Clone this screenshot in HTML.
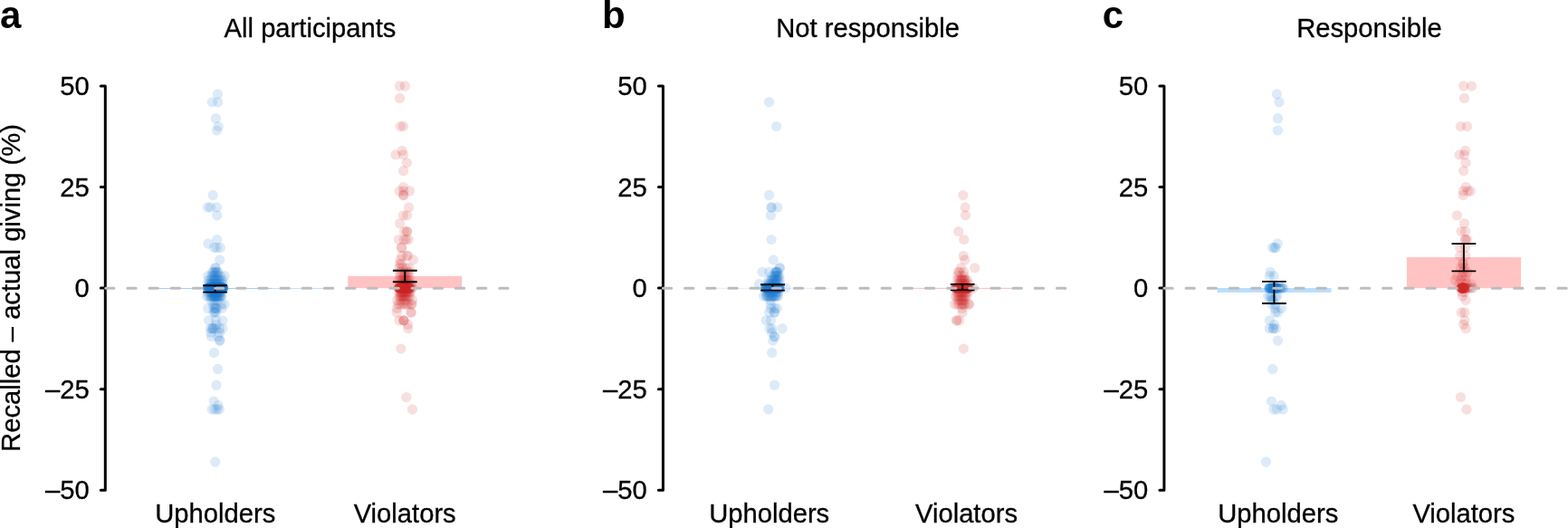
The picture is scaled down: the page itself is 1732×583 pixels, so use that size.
<!DOCTYPE html>
<html lang="en">
<head>
<meta charset="utf-8">
<title>Recalled minus actual giving</title>
<style>
html,body{margin:0;padding:0;background:#fff;}
body{width:1732px;height:583px;overflow:hidden;}
svg{display:block;}
text{font-family:"Liberation Sans",sans-serif;fill:#000;}
.t{font-size:29.2px;stroke:#000;stroke-width:0.3px;}
.pl{font-size:42px;font-weight:bold;}
.ax{stroke:#000;stroke-width:3;fill:none;stroke-linecap:round;stroke-linejoin:round;}
.dash{stroke:#bdbdbd;stroke-width:3.1;stroke-dasharray:9.20 14.97;stroke-linecap:round;fill:none;}
.eb{stroke:#000;stroke-width:1.9;fill:none;}
.b circle{fill:#1c77d1;fill-opacity:0.15;}
.r circle{fill:#d3272b;fill-opacity:0.15;}
</style>
</head>
<body>
<svg width="1732" height="583" viewBox="0 0 1732 583">
<rect width="1732" height="583" fill="#fff"/>
<text class="t" transform="translate(22.3,318) rotate(-90)" text-anchor="middle">Recalled – actual giving (%)</text>

<g>
<text class="pl" x="-0.1" y="31.3">a</text>
<text class="t" x="342.5" y="41.2" text-anchor="middle">All participants</text>
<rect x="174.5" y="318.00" width="126.0" height="0.70" fill="#7dbbff"/>
<rect x="384.2" y="304.80" width="126.0" height="13.40" fill="#ffc3c3"/>
<rect x="300.5" y="318.00" width="67.5" height="0.70" fill="#a8d2ff"/>
<g class="b">
<circle cx="240.4" cy="103.9" r="5.65"/><circle cx="234.4" cy="112.8" r="5.65"/><circle cx="240.7" cy="112.8" r="5.65"/><circle cx="238.4" cy="130.7" r="5.65"/><circle cx="241.2" cy="139.6" r="5.65"/><circle cx="239.5" cy="144.1" r="5.65"/><circle cx="235.2" cy="215.5" r="5.65"/><circle cx="229.4" cy="228.9" r="5.65"/><circle cx="232.5" cy="228.9" r="5.65"/><circle cx="239.5" cy="228.9" r="5.65"/><circle cx="239.7" cy="237.8" r="5.65"/><circle cx="239.7" cy="264.6" r="5.65"/><circle cx="229.9" cy="269.0" r="5.65"/><circle cx="236.5" cy="273.5" r="5.65"/><circle cx="239.5" cy="273.5" r="5.65"/><circle cx="243.4" cy="273.5" r="5.65"/><circle cx="242.7" cy="286.9" r="5.65"/><circle cx="237.9" cy="295.8" r="5.65"/><circle cx="238.1" cy="295.8" r="5.65"/><circle cx="234.6" cy="300.3" r="5.65"/><circle cx="236.0" cy="300.3" r="5.65"/><circle cx="237.5" cy="300.3" r="5.65"/><circle cx="238.5" cy="300.3" r="5.65"/><circle cx="239.5" cy="300.3" r="5.65"/><circle cx="241.1" cy="300.3" r="5.65"/><circle cx="229.7" cy="304.7" r="5.65"/><circle cx="248.1" cy="304.7" r="5.65"/><circle cx="233.5" cy="304.7" r="5.65"/><circle cx="235.5" cy="304.7" r="5.65"/><circle cx="237.0" cy="304.7" r="5.65"/><circle cx="239.0" cy="304.7" r="5.65"/><circle cx="241.0" cy="304.7" r="5.65"/><circle cx="243.5" cy="304.7" r="5.65"/><circle cx="230.5" cy="309.2" r="5.65"/><circle cx="232.5" cy="309.2" r="5.65"/><circle cx="234.5" cy="309.2" r="5.65"/><circle cx="236.0" cy="309.2" r="5.65"/><circle cx="237.5" cy="309.2" r="5.65"/><circle cx="239.0" cy="309.2" r="5.65"/><circle cx="240.5" cy="309.2" r="5.65"/><circle cx="242.0" cy="309.2" r="5.65"/><circle cx="244.0" cy="309.2" r="5.65"/><circle cx="246.0" cy="309.2" r="5.65"/><circle cx="238.0" cy="309.2" r="5.65"/><circle cx="229.5" cy="313.7" r="5.65"/><circle cx="231.5" cy="313.7" r="5.65"/><circle cx="233.5" cy="313.7" r="5.65"/><circle cx="235.0" cy="313.7" r="5.65"/><circle cx="236.5" cy="313.7" r="5.65"/><circle cx="238.0" cy="313.7" r="5.65"/><circle cx="239.5" cy="313.7" r="5.65"/><circle cx="241.0" cy="313.7" r="5.65"/><circle cx="242.5" cy="313.7" r="5.65"/><circle cx="244.5" cy="313.7" r="5.65"/><circle cx="246.5" cy="313.7" r="5.65"/><circle cx="237.0" cy="313.7" r="5.65"/><circle cx="240.0" cy="313.7" r="5.65"/><circle cx="234.0" cy="313.7" r="5.65"/><circle cx="233.2" cy="318.1" r="5.65"/><circle cx="238.7" cy="318.1" r="5.65"/><circle cx="235.6" cy="318.1" r="5.65"/><circle cx="239.7" cy="318.1" r="5.65"/><circle cx="240.1" cy="318.1" r="5.65"/><circle cx="230.2" cy="318.1" r="5.65"/><circle cx="229.2" cy="318.1" r="5.65"/><circle cx="243.9" cy="318.1" r="5.65"/><circle cx="233.6" cy="318.1" r="5.65"/><circle cx="233.2" cy="318.1" r="5.65"/><circle cx="246.7" cy="318.1" r="5.65"/><circle cx="237.4" cy="318.1" r="5.65"/><circle cx="243.9" cy="318.1" r="5.65"/><circle cx="237.5" cy="318.1" r="5.65"/><circle cx="240.4" cy="318.1" r="5.65"/><circle cx="231.7" cy="318.1" r="5.65"/><circle cx="240.3" cy="318.1" r="5.65"/><circle cx="244.5" cy="318.1" r="5.65"/><circle cx="238.3" cy="318.1" r="5.65"/><circle cx="242.2" cy="318.1" r="5.65"/><circle cx="241.0" cy="318.1" r="5.65"/><circle cx="230.1" cy="318.1" r="5.65"/><circle cx="242.5" cy="318.1" r="5.65"/><circle cx="239.5" cy="318.1" r="5.65"/><circle cx="234.4" cy="318.1" r="5.65"/><circle cx="229.6" cy="318.1" r="5.65"/><circle cx="244.4" cy="318.1" r="5.65"/><circle cx="237.4" cy="318.1" r="5.65"/><circle cx="241.8" cy="318.1" r="5.65"/><circle cx="244.6" cy="318.1" r="5.65"/><circle cx="241.7" cy="318.1" r="5.65"/><circle cx="245.4" cy="318.1" r="5.65"/><circle cx="236.0" cy="318.1" r="5.65"/><circle cx="243.3" cy="318.1" r="5.65"/><circle cx="236.9" cy="318.1" r="5.65"/><circle cx="245.7" cy="318.1" r="5.65"/><circle cx="244.6" cy="318.1" r="5.65"/><circle cx="230.7" cy="318.1" r="5.65"/><circle cx="231.4" cy="318.1" r="5.65"/><circle cx="232.9" cy="318.1" r="5.65"/><circle cx="246.2" cy="318.1" r="5.65"/><circle cx="236.8" cy="318.1" r="5.65"/><circle cx="240.2" cy="318.1" r="5.65"/><circle cx="234.4" cy="318.1" r="5.65"/><circle cx="238.0" cy="318.1" r="5.65"/><circle cx="235.9" cy="318.1" r="5.65"/><circle cx="235.2" cy="318.1" r="5.65"/><circle cx="239.4" cy="318.1" r="5.65"/><circle cx="239.4" cy="318.1" r="5.65"/><circle cx="245.1" cy="318.1" r="5.65"/><circle cx="241.1" cy="318.1" r="5.65"/><circle cx="245.5" cy="318.1" r="5.65"/><circle cx="244.2" cy="318.1" r="5.65"/><circle cx="246.6" cy="318.1" r="5.65"/><circle cx="240.9" cy="318.1" r="5.65"/><circle cx="231.9" cy="318.1" r="5.65"/><circle cx="244.3" cy="318.1" r="5.65"/><circle cx="246.2" cy="318.1" r="5.65"/><circle cx="245.1" cy="318.1" r="5.65"/><circle cx="239.1" cy="318.1" r="5.65"/><circle cx="241.7" cy="318.1" r="5.65"/><circle cx="232.8" cy="318.1" r="5.65"/><circle cx="243.8" cy="318.1" r="5.65"/><circle cx="239.2" cy="318.1" r="5.65"/><circle cx="234.1" cy="318.1" r="5.65"/><circle cx="230.1" cy="318.1" r="5.65"/><circle cx="244.2" cy="318.1" r="5.65"/><circle cx="246.6" cy="318.1" r="5.65"/><circle cx="230.6" cy="318.1" r="5.65"/><circle cx="243.3" cy="318.1" r="5.65"/><circle cx="236.3" cy="318.1" r="5.65"/><circle cx="231.7" cy="318.1" r="5.65"/><circle cx="234.2" cy="318.1" r="5.65"/><circle cx="242.7" cy="318.1" r="5.65"/><circle cx="244.5" cy="318.1" r="5.65"/><circle cx="229.8" cy="318.1" r="5.65"/><circle cx="239.9" cy="318.1" r="5.65"/><circle cx="229.8" cy="318.1" r="5.65"/><circle cx="241.8" cy="318.1" r="5.65"/><circle cx="234.9" cy="318.1" r="5.65"/><circle cx="244.7" cy="318.1" r="5.65"/><circle cx="246.5" cy="318.1" r="5.65"/><circle cx="238.0" cy="318.1" r="5.65"/><circle cx="246.8" cy="318.1" r="5.65"/><circle cx="234.5" cy="318.1" r="5.65"/><circle cx="230.4" cy="318.1" r="5.65"/><circle cx="239.7" cy="318.1" r="5.65"/><circle cx="229.6" cy="318.1" r="5.65"/><circle cx="232.5" cy="318.1" r="5.65"/><circle cx="236.3" cy="318.1" r="5.65"/><circle cx="239.9" cy="318.1" r="5.65"/><circle cx="231.8" cy="318.1" r="5.65"/><circle cx="229.8" cy="318.1" r="5.65"/><circle cx="244.4" cy="318.1" r="5.65"/><circle cx="234.6" cy="318.1" r="5.65"/><circle cx="246.1" cy="318.1" r="5.65"/><circle cx="245.0" cy="318.1" r="5.65"/><circle cx="235.7" cy="318.1" r="5.65"/><circle cx="237.2" cy="318.1" r="5.65"/><circle cx="238.3" cy="318.1" r="5.65"/><circle cx="240.5" cy="318.1" r="5.65"/><circle cx="239.6" cy="318.1" r="5.65"/><circle cx="239.0" cy="318.1" r="5.65"/><circle cx="240.0" cy="318.1" r="5.65"/><circle cx="245.7" cy="318.1" r="5.65"/><circle cx="238.0" cy="318.1" r="5.65"/><circle cx="236.7" cy="318.1" r="5.65"/><circle cx="241.8" cy="318.1" r="5.65"/><circle cx="233.2" cy="318.1" r="5.65"/><circle cx="234.4" cy="318.1" r="5.65"/><circle cx="229.5" cy="322.6" r="5.65"/><circle cx="232.0" cy="322.6" r="5.65"/><circle cx="234.0" cy="322.6" r="5.65"/><circle cx="236.0" cy="322.6" r="5.65"/><circle cx="238.0" cy="322.6" r="5.65"/><circle cx="240.0" cy="322.6" r="5.65"/><circle cx="242.0" cy="322.6" r="5.65"/><circle cx="244.0" cy="322.6" r="5.65"/><circle cx="237.0" cy="322.6" r="5.65"/><circle cx="239.0" cy="322.6" r="5.65"/><circle cx="235.0" cy="322.6" r="5.65"/><circle cx="241.0" cy="322.6" r="5.65"/><circle cx="233.0" cy="322.6" r="5.65"/><circle cx="236.5" cy="322.6" r="5.65"/><circle cx="239.5" cy="322.6" r="5.65"/><circle cx="243.0" cy="322.6" r="5.65"/><circle cx="228.5" cy="327.0" r="5.65"/><circle cx="230.5" cy="327.0" r="5.65"/><circle cx="232.5" cy="327.0" r="5.65"/><circle cx="234.5" cy="327.0" r="5.65"/><circle cx="236.0" cy="327.0" r="5.65"/><circle cx="237.0" cy="327.0" r="5.65"/><circle cx="238.0" cy="327.0" r="5.65"/><circle cx="239.5" cy="327.0" r="5.65"/><circle cx="241.0" cy="327.0" r="5.65"/><circle cx="242.5" cy="327.0" r="5.65"/><circle cx="244.0" cy="327.0" r="5.65"/><circle cx="236.5" cy="327.0" r="5.65"/><circle cx="238.5" cy="327.0" r="5.65"/><circle cx="240.0" cy="327.0" r="5.65"/><circle cx="235.0" cy="327.0" r="5.65"/><circle cx="233.5" cy="327.0" r="5.65"/><circle cx="237.5" cy="327.0" r="5.65"/><circle cx="239.0" cy="327.0" r="5.65"/><circle cx="241.7" cy="327.0" r="5.65"/><circle cx="243.2" cy="327.0" r="5.65"/><circle cx="245.0" cy="327.0" r="5.65"/><circle cx="233.0" cy="331.5" r="5.65"/><circle cx="237.0" cy="331.5" r="5.65"/><circle cx="240.5" cy="331.5" r="5.65"/><circle cx="248.0" cy="336.0" r="5.65"/><circle cx="244.5" cy="336.0" r="5.65"/><circle cx="238.0" cy="336.0" r="5.65"/><circle cx="235.5" cy="336.0" r="5.65"/><circle cx="229.8" cy="340.4" r="5.65"/><circle cx="236.0" cy="340.4" r="5.65"/><circle cx="237.5" cy="340.4" r="5.65"/><circle cx="238.5" cy="340.4" r="5.65"/><circle cx="239.5" cy="340.4" r="5.65"/><circle cx="245.0" cy="340.4" r="5.65"/><circle cx="237.5" cy="344.9" r="5.65"/><circle cx="238.5" cy="344.9" r="5.65"/><circle cx="236.0" cy="344.9" r="5.65"/><circle cx="230.7" cy="353.8" r="5.65"/><circle cx="238.5" cy="353.8" r="5.65"/><circle cx="245.7" cy="353.8" r="5.65"/><circle cx="239.0" cy="358.3" r="5.65"/><circle cx="232.5" cy="362.7" r="5.65"/><circle cx="234.5" cy="362.7" r="5.65"/><circle cx="236.0" cy="362.7" r="5.65"/><circle cx="238.5" cy="362.7" r="5.65"/><circle cx="242.5" cy="362.7" r="5.65"/><circle cx="246.0" cy="362.7" r="5.65"/><circle cx="235.0" cy="362.7" r="5.65"/><circle cx="233.0" cy="367.2" r="5.65"/><circle cx="242.5" cy="367.2" r="5.65"/><circle cx="233.5" cy="371.7" r="5.65"/><circle cx="241.0" cy="371.7" r="5.65"/><circle cx="242.5" cy="376.1" r="5.65"/><circle cx="243.0" cy="376.1" r="5.65"/><circle cx="236.5" cy="389.5" r="5.65"/><circle cx="240.5" cy="407.4" r="5.65"/><circle cx="239.0" cy="425.2" r="5.65"/><circle cx="236.2" cy="443.1" r="5.65"/><circle cx="240.9" cy="447.5" r="5.65"/><circle cx="234.2" cy="452.0" r="5.65"/><circle cx="237.2" cy="452.0" r="5.65"/><circle cx="240.0" cy="452.0" r="5.65"/><circle cx="242.4" cy="452.0" r="5.65"/><circle cx="237.7" cy="510.0" r="5.65"/>
</g>
<g class="r">
<circle cx="441.5" cy="95.0" r="5.65"/><circle cx="447.4" cy="95.0" r="5.65"/><circle cx="441.6" cy="108.4" r="5.65"/><circle cx="442.3" cy="139.6" r="5.65"/><circle cx="445.5" cy="139.6" r="5.65"/><circle cx="444.2" cy="166.4" r="5.65"/><circle cx="437.1" cy="170.9" r="5.65"/><circle cx="445.5" cy="170.9" r="5.65"/><circle cx="449.4" cy="179.8" r="5.65"/><circle cx="445.6" cy="188.7" r="5.65"/><circle cx="445.6" cy="206.6" r="5.65"/><circle cx="441.4" cy="211.0" r="5.65"/><circle cx="446.0" cy="211.0" r="5.65"/><circle cx="452.5" cy="211.0" r="5.65"/><circle cx="445.6" cy="215.5" r="5.65"/><circle cx="445.8" cy="215.5" r="5.65"/><circle cx="451.5" cy="228.9" r="5.65"/><circle cx="445.5" cy="237.8" r="5.65"/><circle cx="449.6" cy="237.8" r="5.65"/><circle cx="441.6" cy="246.7" r="5.65"/><circle cx="446.4" cy="255.6" r="5.65"/><circle cx="449.5" cy="255.6" r="5.65"/><circle cx="449.7" cy="255.6" r="5.65"/><circle cx="440.5" cy="264.6" r="5.65"/><circle cx="446.2" cy="264.6" r="5.65"/><circle cx="448.7" cy="264.6" r="5.65"/><circle cx="451.2" cy="264.6" r="5.65"/><circle cx="443.5" cy="273.5" r="5.65"/><circle cx="443.7" cy="273.5" r="5.65"/><circle cx="449.5" cy="282.4" r="5.65"/><circle cx="444.0" cy="282.4" r="5.65"/><circle cx="450.5" cy="282.4" r="5.65"/><circle cx="456.4" cy="286.9" r="5.65"/><circle cx="442.0" cy="286.9" r="5.65"/><circle cx="441.7" cy="291.3" r="5.65"/><circle cx="443.5" cy="291.3" r="5.65"/><circle cx="448.7" cy="295.8" r="5.65"/><circle cx="444.5" cy="295.8" r="5.65"/><circle cx="452.0" cy="295.8" r="5.65"/><circle cx="441.0" cy="295.8" r="5.65"/><circle cx="441.0" cy="300.3" r="5.65"/><circle cx="443.5" cy="300.3" r="5.65"/><circle cx="447.0" cy="300.3" r="5.65"/><circle cx="450.5" cy="300.3" r="5.65"/><circle cx="452.0" cy="300.3" r="5.65"/><circle cx="442.0" cy="304.7" r="5.65"/><circle cx="445.5" cy="304.7" r="5.65"/><circle cx="448.5" cy="304.7" r="5.65"/><circle cx="451.5" cy="304.7" r="5.65"/><circle cx="447.0" cy="304.7" r="5.65"/><circle cx="440.5" cy="309.2" r="5.65"/><circle cx="442.5" cy="309.2" r="5.65"/><circle cx="445.0" cy="309.2" r="5.65"/><circle cx="447.5" cy="309.2" r="5.65"/><circle cx="450.0" cy="309.2" r="5.65"/><circle cx="452.5" cy="309.2" r="5.65"/><circle cx="446.0" cy="309.2" r="5.65"/><circle cx="449.0" cy="309.2" r="5.65"/><circle cx="441.5" cy="313.7" r="5.65"/><circle cx="443.5" cy="313.7" r="5.65"/><circle cx="446.5" cy="313.7" r="5.65"/><circle cx="449.5" cy="313.7" r="5.65"/><circle cx="452.0" cy="313.7" r="5.65"/><circle cx="445.0" cy="313.7" r="5.65"/><circle cx="448.0" cy="313.7" r="5.65"/><circle cx="454.0" cy="313.7" r="5.65"/><circle cx="452.6" cy="318.1" r="5.65"/><circle cx="446.9" cy="318.1" r="5.65"/><circle cx="447.2" cy="318.1" r="5.65"/><circle cx="440.4" cy="318.1" r="5.65"/><circle cx="445.5" cy="318.1" r="5.65"/><circle cx="447.6" cy="318.1" r="5.65"/><circle cx="440.6" cy="318.1" r="5.65"/><circle cx="448.1" cy="318.1" r="5.65"/><circle cx="448.3" cy="318.1" r="5.65"/><circle cx="441.1" cy="318.1" r="5.65"/><circle cx="448.2" cy="318.1" r="5.65"/><circle cx="446.2" cy="318.1" r="5.65"/><circle cx="448.9" cy="318.1" r="5.65"/><circle cx="444.7" cy="318.1" r="5.65"/><circle cx="449.2" cy="318.1" r="5.65"/><circle cx="449.6" cy="318.1" r="5.65"/><circle cx="440.6" cy="318.1" r="5.65"/><circle cx="441.1" cy="318.1" r="5.65"/><circle cx="448.8" cy="318.1" r="5.65"/><circle cx="452.4" cy="318.1" r="5.65"/><circle cx="443.5" cy="318.1" r="5.65"/><circle cx="446.0" cy="318.1" r="5.65"/><circle cx="447.8" cy="318.1" r="5.65"/><circle cx="444.3" cy="318.1" r="5.65"/><circle cx="444.9" cy="318.1" r="5.65"/><circle cx="444.2" cy="318.1" r="5.65"/><circle cx="445.0" cy="318.1" r="5.65"/><circle cx="447.8" cy="318.1" r="5.65"/><circle cx="444.1" cy="318.1" r="5.65"/><circle cx="445.1" cy="318.1" r="5.65"/><circle cx="450.0" cy="318.1" r="5.65"/><circle cx="440.6" cy="318.1" r="5.65"/><circle cx="447.5" cy="318.1" r="5.65"/><circle cx="449.6" cy="318.1" r="5.65"/><circle cx="444.2" cy="318.1" r="5.65"/><circle cx="443.1" cy="318.1" r="5.65"/><circle cx="450.4" cy="318.1" r="5.65"/><circle cx="443.3" cy="318.1" r="5.65"/><circle cx="442.7" cy="318.1" r="5.65"/><circle cx="445.8" cy="318.1" r="5.65"/><circle cx="449.1" cy="318.1" r="5.65"/><circle cx="441.6" cy="318.1" r="5.65"/><circle cx="444.4" cy="318.1" r="5.65"/><circle cx="444.5" cy="318.1" r="5.65"/><circle cx="450.8" cy="318.1" r="5.65"/><circle cx="445.8" cy="318.1" r="5.65"/><circle cx="451.1" cy="318.1" r="5.65"/><circle cx="442.4" cy="318.1" r="5.65"/><circle cx="444.5" cy="318.1" r="5.65"/><circle cx="448.5" cy="318.1" r="5.65"/><circle cx="451.4" cy="318.1" r="5.65"/><circle cx="446.0" cy="318.1" r="5.65"/><circle cx="443.1" cy="318.1" r="5.65"/><circle cx="441.8" cy="318.1" r="5.65"/><circle cx="447.0" cy="318.1" r="5.65"/><circle cx="442.7" cy="318.1" r="5.65"/><circle cx="450.5" cy="318.1" r="5.65"/><circle cx="450.9" cy="318.1" r="5.65"/><circle cx="442.6" cy="318.1" r="5.65"/><circle cx="443.8" cy="318.1" r="5.65"/><circle cx="450.5" cy="318.1" r="5.65"/><circle cx="448.4" cy="318.1" r="5.65"/><circle cx="450.5" cy="318.1" r="5.65"/><circle cx="444.7" cy="318.1" r="5.65"/><circle cx="441.9" cy="318.1" r="5.65"/><circle cx="444.0" cy="318.1" r="5.65"/><circle cx="450.3" cy="318.1" r="5.65"/><circle cx="443.7" cy="318.1" r="5.65"/><circle cx="444.7" cy="318.1" r="5.65"/><circle cx="445.6" cy="318.1" r="5.65"/><circle cx="445.6" cy="318.1" r="5.65"/><circle cx="445.5" cy="318.1" r="5.65"/><circle cx="451.9" cy="318.1" r="5.65"/><circle cx="442.3" cy="318.1" r="5.65"/><circle cx="440.4" cy="318.1" r="5.65"/><circle cx="452.2" cy="318.1" r="5.65"/><circle cx="451.4" cy="318.1" r="5.65"/><circle cx="452.7" cy="318.1" r="5.65"/><circle cx="445.8" cy="318.1" r="5.65"/><circle cx="452.3" cy="318.1" r="5.65"/><circle cx="452.0" cy="318.1" r="5.65"/><circle cx="443.1" cy="318.1" r="5.65"/><circle cx="449.7" cy="318.1" r="5.65"/><circle cx="450.8" cy="318.1" r="5.65"/><circle cx="448.7" cy="318.1" r="5.65"/><circle cx="454.5" cy="318.1" r="5.65"/><circle cx="455.5" cy="318.1" r="5.65"/><circle cx="441.0" cy="322.6" r="5.65"/><circle cx="444.0" cy="322.6" r="5.65"/><circle cx="447.0" cy="322.6" r="5.65"/><circle cx="450.0" cy="322.6" r="5.65"/><circle cx="453.0" cy="322.6" r="5.65"/><circle cx="445.5" cy="322.6" r="5.65"/><circle cx="442.5" cy="322.6" r="5.65"/><circle cx="446.2" cy="322.6" r="5.65"/><circle cx="448.5" cy="322.6" r="5.65"/><circle cx="451.5" cy="322.6" r="5.65"/><circle cx="443.2" cy="322.6" r="5.65"/><circle cx="449.3" cy="322.6" r="5.65"/><circle cx="442.0" cy="327.0" r="5.65"/><circle cx="445.0" cy="327.0" r="5.65"/><circle cx="446.5" cy="327.0" r="5.65"/><circle cx="448.0" cy="327.0" r="5.65"/><circle cx="451.0" cy="327.0" r="5.65"/><circle cx="449.5" cy="327.0" r="5.65"/><circle cx="443.5" cy="327.0" r="5.65"/><circle cx="441.0" cy="327.0" r="5.65"/><circle cx="444.2" cy="327.0" r="5.65"/><circle cx="447.3" cy="327.0" r="5.65"/><circle cx="452.5" cy="327.0" r="5.65"/><circle cx="438.8" cy="331.5" r="5.65"/><circle cx="442.5" cy="331.5" r="5.65"/><circle cx="445.5" cy="331.5" r="5.65"/><circle cx="448.5" cy="331.5" r="5.65"/><circle cx="455.7" cy="331.5" r="5.65"/><circle cx="439.5" cy="336.0" r="5.65"/><circle cx="442.0" cy="336.0" r="5.65"/><circle cx="444.5" cy="336.0" r="5.65"/><circle cx="447.0" cy="336.0" r="5.65"/><circle cx="449.0" cy="336.0" r="5.65"/><circle cx="451.0" cy="336.0" r="5.65"/><circle cx="454.5" cy="336.0" r="5.65"/><circle cx="454.8" cy="336.0" r="5.65"/><circle cx="438.5" cy="340.4" r="5.65"/><circle cx="438.3" cy="344.9" r="5.65"/><circle cx="454.0" cy="344.9" r="5.65"/><circle cx="454.2" cy="344.9" r="5.65"/><circle cx="441.0" cy="353.8" r="5.65"/><circle cx="445.6" cy="353.8" r="5.65"/><circle cx="445.9" cy="353.8" r="5.65"/><circle cx="446.2" cy="353.8" r="5.65"/><circle cx="450.5" cy="358.3" r="5.65"/><circle cx="450.7" cy="362.7" r="5.65"/><circle cx="442.9" cy="385.1" r="5.65"/><circle cx="448.9" cy="438.6" r="5.65"/><circle cx="455.5" cy="452.0" r="5.65"/>
</g>
<path class="eb" d="M224.2 315.2h26.8M224.2 322.6h26.8M237.6 315.2V322.6"/>
<path class="eb" d="M433.9 298.8h26.8M433.9 311.3h26.8M447.3 298.8V311.3"/>
<path class="ax" d="M111.3 95.0H116.3V541.2H111.3M111.3 206.6H116.3M111.3 318.1H116.3M111.3 429.7H116.3"/>
<path class="dash" d="M116.75 318.3H561.01"/>
<text class="t" transform="translate(98.7 105.2) scale(1 1.04)" text-anchor="end">50</text>
<text class="t" transform="translate(98.7 216.8) scale(1 1.04)" text-anchor="end">25</text>
<text class="t" transform="translate(98.7 328.3) scale(1 1.04)" text-anchor="end">0</text>
<text class="t" transform="translate(98.7 439.9) scale(1 1.04)" text-anchor="end">–25</text>
<text class="t" transform="translate(98.7 551.4) scale(1 1.04)" text-anchor="end">–50</text>
<text class="t" x="237.8" y="577.3" text-anchor="middle">Upholders</text>
<text class="t" x="447.2" y="577.3" text-anchor="middle">Violators</text>
</g>
<g>
<text class="pl" x="664.9" y="31.3">b</text>
<text class="t" x="958.6" y="41.2" text-anchor="middle">Not responsible</text>
<rect x="790.4" y="317.90" width="126.0" height="0.70" fill="#cfe6ff"/>
<rect x="1000.2" y="317.90" width="126.0" height="0.70" fill="#ff9c9c"/>
<g class="b">
<circle cx="849.5" cy="112.8" r="5.65"/><circle cx="857.7" cy="139.6" r="5.65"/><circle cx="849.5" cy="215.5" r="5.65"/><circle cx="852.0" cy="228.9" r="5.65"/><circle cx="852.3" cy="228.9" r="5.65"/><circle cx="858.7" cy="228.9" r="5.65"/><circle cx="851.4" cy="237.8" r="5.65"/><circle cx="852.0" cy="264.6" r="5.65"/><circle cx="854.2" cy="286.9" r="5.65"/><circle cx="861.5" cy="295.8" r="5.65"/><circle cx="861.0" cy="295.8" r="5.65"/><circle cx="842.0" cy="300.3" r="5.65"/><circle cx="849.7" cy="300.3" r="5.65"/><circle cx="856.5" cy="300.3" r="5.65"/><circle cx="857.5" cy="300.3" r="5.65"/><circle cx="858.5" cy="300.3" r="5.65"/><circle cx="857.0" cy="300.3" r="5.65"/><circle cx="859.0" cy="300.3" r="5.65"/><circle cx="861.0" cy="304.7" r="5.65"/><circle cx="855.0" cy="304.7" r="5.65"/><circle cx="857.5" cy="304.7" r="5.65"/><circle cx="852.5" cy="304.7" r="5.65"/><circle cx="856.0" cy="304.7" r="5.65"/><circle cx="858.5" cy="304.7" r="5.65"/><circle cx="859.5" cy="304.7" r="5.65"/><circle cx="849.0" cy="309.2" r="5.65"/><circle cx="852.0" cy="309.2" r="5.65"/><circle cx="855.0" cy="309.2" r="5.65"/><circle cx="858.0" cy="309.2" r="5.65"/><circle cx="861.0" cy="309.2" r="5.65"/><circle cx="856.0" cy="309.2" r="5.65"/><circle cx="854.0" cy="309.2" r="5.65"/><circle cx="857.0" cy="309.2" r="5.65"/><circle cx="859.0" cy="309.2" r="5.65"/><circle cx="853.0" cy="309.2" r="5.65"/><circle cx="838.5" cy="313.7" r="5.65"/><circle cx="847.0" cy="313.7" r="5.65"/><circle cx="850.0" cy="313.7" r="5.65"/><circle cx="853.0" cy="313.7" r="5.65"/><circle cx="856.0" cy="313.7" r="5.65"/><circle cx="859.0" cy="313.7" r="5.65"/><circle cx="862.0" cy="313.7" r="5.65"/><circle cx="852.0" cy="313.7" r="5.65"/><circle cx="855.0" cy="313.7" r="5.65"/><circle cx="857.5" cy="313.7" r="5.65"/><circle cx="849.0" cy="313.7" r="5.65"/><circle cx="854.0" cy="318.1" r="5.65"/><circle cx="850.2" cy="318.1" r="5.65"/><circle cx="851.0" cy="318.1" r="5.65"/><circle cx="849.2" cy="318.1" r="5.65"/><circle cx="846.5" cy="318.1" r="5.65"/><circle cx="855.1" cy="318.1" r="5.65"/><circle cx="850.1" cy="318.1" r="5.65"/><circle cx="858.8" cy="318.1" r="5.65"/><circle cx="846.1" cy="318.1" r="5.65"/><circle cx="860.3" cy="318.1" r="5.65"/><circle cx="856.8" cy="318.1" r="5.65"/><circle cx="860.6" cy="318.1" r="5.65"/><circle cx="860.2" cy="318.1" r="5.65"/><circle cx="860.2" cy="318.1" r="5.65"/><circle cx="854.9" cy="318.1" r="5.65"/><circle cx="845.6" cy="318.1" r="5.65"/><circle cx="857.7" cy="318.1" r="5.65"/><circle cx="848.2" cy="318.1" r="5.65"/><circle cx="850.3" cy="318.1" r="5.65"/><circle cx="856.3" cy="318.1" r="5.65"/><circle cx="854.1" cy="318.1" r="5.65"/><circle cx="852.2" cy="318.1" r="5.65"/><circle cx="860.9" cy="318.1" r="5.65"/><circle cx="855.5" cy="318.1" r="5.65"/><circle cx="851.0" cy="318.1" r="5.65"/><circle cx="849.6" cy="318.1" r="5.65"/><circle cx="859.6" cy="318.1" r="5.65"/><circle cx="853.3" cy="318.1" r="5.65"/><circle cx="858.3" cy="318.1" r="5.65"/><circle cx="851.2" cy="318.1" r="5.65"/><circle cx="848.7" cy="318.1" r="5.65"/><circle cx="854.2" cy="318.1" r="5.65"/><circle cx="858.9" cy="318.1" r="5.65"/><circle cx="848.2" cy="318.1" r="5.65"/><circle cx="858.5" cy="318.1" r="5.65"/><circle cx="860.6" cy="318.1" r="5.65"/><circle cx="858.7" cy="318.1" r="5.65"/><circle cx="859.0" cy="318.1" r="5.65"/><circle cx="845.5" cy="318.1" r="5.65"/><circle cx="855.8" cy="318.1" r="5.65"/><circle cx="859.6" cy="318.1" r="5.65"/><circle cx="846.2" cy="318.1" r="5.65"/><circle cx="849.9" cy="318.1" r="5.65"/><circle cx="849.8" cy="318.1" r="5.65"/><circle cx="854.1" cy="318.1" r="5.65"/><circle cx="852.4" cy="318.1" r="5.65"/><circle cx="853.2" cy="318.1" r="5.65"/><circle cx="858.2" cy="318.1" r="5.65"/><circle cx="845.4" cy="318.1" r="5.65"/><circle cx="846.3" cy="318.1" r="5.65"/><circle cx="847.5" cy="318.1" r="5.65"/><circle cx="847.5" cy="318.1" r="5.65"/><circle cx="846.5" cy="318.1" r="5.65"/><circle cx="861.5" cy="318.1" r="5.65"/><circle cx="859.5" cy="318.1" r="5.65"/><circle cx="846.8" cy="318.1" r="5.65"/><circle cx="853.7" cy="318.1" r="5.65"/><circle cx="850.6" cy="318.1" r="5.65"/><circle cx="850.6" cy="318.1" r="5.65"/><circle cx="851.2" cy="318.1" r="5.65"/><circle cx="856.1" cy="318.1" r="5.65"/><circle cx="855.1" cy="318.1" r="5.65"/><circle cx="851.4" cy="318.1" r="5.65"/><circle cx="848.6" cy="318.1" r="5.65"/><circle cx="850.8" cy="318.1" r="5.65"/><circle cx="847.4" cy="318.1" r="5.65"/><circle cx="854.6" cy="318.1" r="5.65"/><circle cx="857.2" cy="318.1" r="5.65"/><circle cx="851.7" cy="318.1" r="5.65"/><circle cx="846.7" cy="318.1" r="5.65"/><circle cx="867.6" cy="318.1" r="5.65"/><circle cx="846.0" cy="322.6" r="5.65"/><circle cx="850.0" cy="322.6" r="5.65"/><circle cx="854.0" cy="322.6" r="5.65"/><circle cx="858.0" cy="322.6" r="5.65"/><circle cx="848.0" cy="322.6" r="5.65"/><circle cx="852.0" cy="322.6" r="5.65"/><circle cx="856.0" cy="322.6" r="5.65"/><circle cx="860.0" cy="322.6" r="5.65"/><circle cx="843.5" cy="327.0" r="5.65"/><circle cx="847.0" cy="327.0" r="5.65"/><circle cx="850.0" cy="327.0" r="5.65"/><circle cx="852.5" cy="327.0" r="5.65"/><circle cx="855.0" cy="327.0" r="5.65"/><circle cx="857.0" cy="327.0" r="5.65"/><circle cx="859.5" cy="327.0" r="5.65"/><circle cx="849.0" cy="327.0" r="5.65"/><circle cx="853.5" cy="327.0" r="5.65"/><circle cx="856.0" cy="327.0" r="5.65"/><circle cx="846.0" cy="327.0" r="5.65"/><circle cx="848.0" cy="327.0" r="5.65"/><circle cx="851.0" cy="327.0" r="5.65"/><circle cx="854.0" cy="327.0" r="5.65"/><circle cx="858.0" cy="327.0" r="5.65"/><circle cx="851.0" cy="331.5" r="5.65"/><circle cx="851.2" cy="336.0" r="5.65"/><circle cx="851.7" cy="340.4" r="5.65"/><circle cx="855.7" cy="340.4" r="5.65"/><circle cx="858.2" cy="340.4" r="5.65"/><circle cx="849.7" cy="344.9" r="5.65"/><circle cx="855.2" cy="344.9" r="5.65"/><circle cx="855.5" cy="344.9" r="5.65"/><circle cx="846.2" cy="353.8" r="5.65"/><circle cx="851.5" cy="353.8" r="5.65"/><circle cx="850.0" cy="362.7" r="5.65"/><circle cx="852.7" cy="362.7" r="5.65"/><circle cx="864.0" cy="362.7" r="5.65"/><circle cx="852.7" cy="367.2" r="5.65"/><circle cx="855.4" cy="371.7" r="5.65"/><circle cx="855.6" cy="371.7" r="5.65"/><circle cx="853.7" cy="376.1" r="5.65"/><circle cx="852.7" cy="389.5" r="5.65"/><circle cx="855.6" cy="425.2" r="5.65"/><circle cx="848.7" cy="452.0" r="5.65"/>
</g>
<g class="r">
<circle cx="1063.9" cy="215.5" r="5.65"/><circle cx="1066.1" cy="228.9" r="5.65"/><circle cx="1066.4" cy="237.8" r="5.65"/><circle cx="1058.8" cy="255.6" r="5.65"/><circle cx="1064.7" cy="264.6" r="5.65"/><circle cx="1064.2" cy="282.4" r="5.65"/><circle cx="1065.7" cy="286.9" r="5.65"/><circle cx="1061.5" cy="295.8" r="5.65"/><circle cx="1076.7" cy="295.8" r="5.65"/><circle cx="1058.8" cy="300.3" r="5.65"/><circle cx="1064.7" cy="300.3" r="5.65"/><circle cx="1059.5" cy="300.3" r="5.65"/><circle cx="1058.0" cy="304.7" r="5.65"/><circle cx="1062.0" cy="304.7" r="5.65"/><circle cx="1065.0" cy="304.7" r="5.65"/><circle cx="1057.5" cy="309.2" r="5.65"/><circle cx="1060.0" cy="309.2" r="5.65"/><circle cx="1062.5" cy="309.2" r="5.65"/><circle cx="1064.5" cy="309.2" r="5.65"/><circle cx="1066.5" cy="309.2" r="5.65"/><circle cx="1068.5" cy="309.2" r="5.65"/><circle cx="1061.0" cy="309.2" r="5.65"/><circle cx="1063.5" cy="309.2" r="5.65"/><circle cx="1062.0" cy="309.2" r="5.65"/><circle cx="1065.5" cy="309.2" r="5.65"/><circle cx="1058.0" cy="313.7" r="5.65"/><circle cx="1061.0" cy="313.7" r="5.65"/><circle cx="1064.0" cy="313.7" r="5.65"/><circle cx="1067.0" cy="313.7" r="5.65"/><circle cx="1070.0" cy="313.7" r="5.65"/><circle cx="1060.0" cy="313.7" r="5.65"/><circle cx="1063.0" cy="313.7" r="5.65"/><circle cx="1066.0" cy="313.7" r="5.65"/><circle cx="1058.1" cy="318.1" r="5.65"/><circle cx="1061.2" cy="318.1" r="5.65"/><circle cx="1064.9" cy="318.1" r="5.65"/><circle cx="1067.7" cy="318.1" r="5.65"/><circle cx="1061.3" cy="318.1" r="5.65"/><circle cx="1068.0" cy="318.1" r="5.65"/><circle cx="1065.2" cy="318.1" r="5.65"/><circle cx="1062.1" cy="318.1" r="5.65"/><circle cx="1061.2" cy="318.1" r="5.65"/><circle cx="1063.1" cy="318.1" r="5.65"/><circle cx="1066.4" cy="318.1" r="5.65"/><circle cx="1061.9" cy="318.1" r="5.65"/><circle cx="1066.3" cy="318.1" r="5.65"/><circle cx="1062.6" cy="318.1" r="5.65"/><circle cx="1059.1" cy="318.1" r="5.65"/><circle cx="1063.8" cy="318.1" r="5.65"/><circle cx="1066.3" cy="318.1" r="5.65"/><circle cx="1056.3" cy="318.1" r="5.65"/><circle cx="1062.0" cy="318.1" r="5.65"/><circle cx="1062.0" cy="318.1" r="5.65"/><circle cx="1069.3" cy="318.1" r="5.65"/><circle cx="1070.2" cy="318.1" r="5.65"/><circle cx="1061.2" cy="318.1" r="5.65"/><circle cx="1069.6" cy="318.1" r="5.65"/><circle cx="1067.9" cy="318.1" r="5.65"/><circle cx="1059.4" cy="318.1" r="5.65"/><circle cx="1062.6" cy="318.1" r="5.65"/><circle cx="1057.2" cy="318.1" r="5.65"/><circle cx="1068.2" cy="318.1" r="5.65"/><circle cx="1065.8" cy="318.1" r="5.65"/><circle cx="1069.4" cy="318.1" r="5.65"/><circle cx="1067.9" cy="318.1" r="5.65"/><circle cx="1065.9" cy="318.1" r="5.65"/><circle cx="1066.9" cy="318.1" r="5.65"/><circle cx="1064.2" cy="318.1" r="5.65"/><circle cx="1056.9" cy="318.1" r="5.65"/><circle cx="1064.6" cy="318.1" r="5.65"/><circle cx="1055.3" cy="318.1" r="5.65"/><circle cx="1057.5" cy="318.1" r="5.65"/><circle cx="1067.6" cy="318.1" r="5.65"/><circle cx="1055.9" cy="318.1" r="5.65"/><circle cx="1056.7" cy="318.1" r="5.65"/><circle cx="1056.8" cy="318.1" r="5.65"/><circle cx="1069.3" cy="318.1" r="5.65"/><circle cx="1058.1" cy="318.1" r="5.65"/><circle cx="1055.6" cy="318.1" r="5.65"/><circle cx="1068.7" cy="318.1" r="5.65"/><circle cx="1057.1" cy="318.1" r="5.65"/><circle cx="1068.7" cy="318.1" r="5.65"/><circle cx="1066.0" cy="318.1" r="5.65"/><circle cx="1068.6" cy="318.1" r="5.65"/><circle cx="1070.4" cy="318.1" r="5.65"/><circle cx="1064.5" cy="318.1" r="5.65"/><circle cx="1068.0" cy="318.1" r="5.65"/><circle cx="1055.8" cy="318.1" r="5.65"/><circle cx="1075.2" cy="318.1" r="5.65"/><circle cx="1057.0" cy="322.6" r="5.65"/><circle cx="1060.0" cy="322.6" r="5.65"/><circle cx="1063.0" cy="322.6" r="5.65"/><circle cx="1066.0" cy="322.6" r="5.65"/><circle cx="1069.0" cy="322.6" r="5.65"/><circle cx="1059.0" cy="322.6" r="5.65"/><circle cx="1062.0" cy="322.6" r="5.65"/><circle cx="1065.0" cy="322.6" r="5.65"/><circle cx="1055.3" cy="327.0" r="5.65"/><circle cx="1058.5" cy="327.0" r="5.65"/><circle cx="1061.5" cy="327.0" r="5.65"/><circle cx="1064.0" cy="327.0" r="5.65"/><circle cx="1066.5" cy="327.0" r="5.65"/><circle cx="1068.2" cy="327.0" r="5.65"/><circle cx="1057.0" cy="327.0" r="5.65"/><circle cx="1060.0" cy="327.0" r="5.65"/><circle cx="1063.0" cy="327.0" r="5.65"/><circle cx="1065.5" cy="327.0" r="5.65"/><circle cx="1058.0" cy="331.5" r="5.65"/><circle cx="1062.0" cy="331.5" r="5.65"/><circle cx="1065.0" cy="331.5" r="5.65"/><circle cx="1060.5" cy="331.5" r="5.65"/><circle cx="1063.5" cy="331.5" r="5.65"/><circle cx="1054.5" cy="336.0" r="5.65"/><circle cx="1058.0" cy="336.0" r="5.65"/><circle cx="1060.0" cy="336.0" r="5.65"/><circle cx="1062.7" cy="336.0" r="5.65"/><circle cx="1063.0" cy="336.0" r="5.65"/><circle cx="1064.5" cy="336.0" r="5.65"/><circle cx="1066.5" cy="336.0" r="5.65"/><circle cx="1070.2" cy="336.0" r="5.65"/><circle cx="1070.4" cy="336.0" r="5.65"/><circle cx="1062.7" cy="340.4" r="5.65"/><circle cx="1063.2" cy="344.9" r="5.65"/><circle cx="1056.6" cy="353.8" r="5.65"/><circle cx="1056.8" cy="353.8" r="5.65"/><circle cx="1059.7" cy="353.8" r="5.65"/><circle cx="1064.3" cy="385.1" r="5.65"/>
</g>
<path class="eb" d="M840.1 314.2h26.8M840.1 320.6h26.8M853.5 314.2V320.6"/>
<path class="eb" d="M1049.8 313.9h26.8M1049.8 320.3h26.8M1063.2 313.9V320.3"/>
<path class="ax" d="M727.4 95.0H732.4V541.2H727.4M727.4 206.6H732.4M727.4 318.1H732.4M727.4 429.7H732.4"/>
<path class="dash" d="M732.45 318.3H1176.71"/>
<text class="t" transform="translate(714.8 105.2) scale(1 1.04)" text-anchor="end">50</text>
<text class="t" transform="translate(714.8 216.8) scale(1 1.04)" text-anchor="end">25</text>
<text class="t" transform="translate(714.8 328.3) scale(1 1.04)" text-anchor="end">0</text>
<text class="t" transform="translate(714.8 439.9) scale(1 1.04)" text-anchor="end">–25</text>
<text class="t" transform="translate(714.8 551.4) scale(1 1.04)" text-anchor="end">–50</text>
<text class="t" x="849.7" y="577.3" text-anchor="middle">Upholders</text>
<text class="t" x="1067.5" y="577.3" text-anchor="middle">Violators</text>
</g>
<g>
<text class="pl" x="1217.7" y="31.3">c</text>
<text class="t" x="1512.5" y="41.2" text-anchor="middle">Responsible</text>
<rect x="1344.5" y="318.00" width="126.0" height="4.90" fill="#b9defd"/>
<rect x="1553.9" y="284.05" width="126.1" height="34.15" fill="#ffc3c3"/>
<g class="b">
<circle cx="1410.4" cy="103.9" r="5.65"/><circle cx="1412.9" cy="112.8" r="5.65"/><circle cx="1411.5" cy="130.7" r="5.65"/><circle cx="1411.4" cy="144.1" r="5.65"/><circle cx="1411.2" cy="269.0" r="5.65"/><circle cx="1405.5" cy="273.5" r="5.65"/><circle cx="1407.7" cy="273.5" r="5.65"/><circle cx="1409.2" cy="273.5" r="5.65"/><circle cx="1403.2" cy="300.3" r="5.65"/><circle cx="1402.4" cy="304.7" r="5.65"/><circle cx="1407.2" cy="304.7" r="5.65"/><circle cx="1409.9" cy="318.1" r="5.65"/><circle cx="1406.9" cy="318.1" r="5.65"/><circle cx="1409.3" cy="318.1" r="5.65"/><circle cx="1402.2" cy="318.1" r="5.65"/><circle cx="1409.7" cy="318.1" r="5.65"/><circle cx="1411.8" cy="318.1" r="5.65"/><circle cx="1401.7" cy="318.1" r="5.65"/><circle cx="1404.8" cy="318.1" r="5.65"/><circle cx="1407.5" cy="318.1" r="5.65"/><circle cx="1410.6" cy="318.1" r="5.65"/><circle cx="1403.8" cy="318.1" r="5.65"/><circle cx="1403.1" cy="318.1" r="5.65"/><circle cx="1403.9" cy="318.1" r="5.65"/><circle cx="1408.1" cy="318.1" r="5.65"/><circle cx="1409.7" cy="318.1" r="5.65"/><circle cx="1405.6" cy="318.1" r="5.65"/><circle cx="1405.3" cy="318.1" r="5.65"/><circle cx="1405.6" cy="318.1" r="5.65"/><circle cx="1405.1" cy="318.1" r="5.65"/><circle cx="1405.9" cy="318.1" r="5.65"/><circle cx="1402.0" cy="318.1" r="5.65"/><circle cx="1406.8" cy="318.1" r="5.65"/><circle cx="1412.3" cy="318.1" r="5.65"/><circle cx="1405.8" cy="318.1" r="5.65"/><circle cx="1409.7" cy="318.1" r="5.65"/><circle cx="1402.9" cy="318.1" r="5.65"/><circle cx="1409.0" cy="318.1" r="5.65"/><circle cx="1409.8" cy="318.1" r="5.65"/><circle cx="1408.8" cy="318.1" r="5.65"/><circle cx="1407.0" cy="318.1" r="5.65"/><circle cx="1406.6" cy="318.1" r="5.65"/><circle cx="1408.5" cy="318.1" r="5.65"/><circle cx="1411.4" cy="318.1" r="5.65"/><circle cx="1402.7" cy="318.1" r="5.65"/><circle cx="1402.1" cy="318.1" r="5.65"/><circle cx="1409.7" cy="318.1" r="5.65"/><circle cx="1413.5" cy="318.1" r="5.65"/><circle cx="1414.5" cy="318.1" r="5.65"/><circle cx="1415.5" cy="318.1" r="5.65"/><circle cx="1416.5" cy="318.1" r="5.65"/><circle cx="1417.8" cy="318.1" r="5.65"/><circle cx="1400.7" cy="327.0" r="5.65"/><circle cx="1403.0" cy="327.0" r="5.65"/><circle cx="1404.8" cy="327.0" r="5.65"/><circle cx="1408.9" cy="327.0" r="5.65"/><circle cx="1410.7" cy="327.0" r="5.65"/><circle cx="1406.0" cy="331.5" r="5.65"/><circle cx="1404.0" cy="331.5" r="5.65"/><circle cx="1404.7" cy="336.0" r="5.65"/><circle cx="1408.7" cy="336.0" r="5.65"/><circle cx="1408.7" cy="340.4" r="5.65"/><circle cx="1415.3" cy="340.4" r="5.65"/><circle cx="1411.5" cy="344.9" r="5.65"/><circle cx="1408.7" cy="344.9" r="5.65"/><circle cx="1402.4" cy="353.8" r="5.65"/><circle cx="1407.5" cy="358.3" r="5.65"/><circle cx="1402.2" cy="362.7" r="5.65"/><circle cx="1406.2" cy="362.7" r="5.65"/><circle cx="1406.5" cy="362.7" r="5.65"/><circle cx="1409.2" cy="362.7" r="5.65"/><circle cx="1411.4" cy="376.1" r="5.65"/><circle cx="1405.7" cy="407.4" r="5.65"/><circle cx="1404.4" cy="443.1" r="5.65"/><circle cx="1415.2" cy="447.5" r="5.65"/><circle cx="1406.9" cy="452.0" r="5.65"/><circle cx="1410.4" cy="452.0" r="5.65"/><circle cx="1417.2" cy="452.0" r="5.65"/><circle cx="1398.5" cy="510.0" r="5.65"/>
</g>
<g class="r">
<circle cx="1616.7" cy="95.0" r="5.65"/><circle cx="1625.5" cy="95.0" r="5.65"/><circle cx="1617.5" cy="108.4" r="5.65"/><circle cx="1613.5" cy="139.6" r="5.65"/><circle cx="1620.5" cy="139.6" r="5.65"/><circle cx="1618.5" cy="166.4" r="5.65"/><circle cx="1612.0" cy="170.9" r="5.65"/><circle cx="1617.4" cy="170.9" r="5.65"/><circle cx="1619.0" cy="179.8" r="5.65"/><circle cx="1616.6" cy="188.7" r="5.65"/><circle cx="1619.2" cy="206.6" r="5.65"/><circle cx="1616.2" cy="211.0" r="5.65"/><circle cx="1621.5" cy="211.0" r="5.65"/><circle cx="1624.4" cy="211.0" r="5.65"/><circle cx="1616.2" cy="215.5" r="5.65"/><circle cx="1609.4" cy="237.8" r="5.65"/><circle cx="1617.4" cy="246.7" r="5.65"/><circle cx="1614.2" cy="255.6" r="5.65"/><circle cx="1618.5" cy="255.6" r="5.65"/><circle cx="1618.5" cy="264.6" r="5.65"/><circle cx="1618.7" cy="264.6" r="5.65"/><circle cx="1620.7" cy="264.6" r="5.65"/><circle cx="1612.7" cy="273.5" r="5.65"/><circle cx="1618.5" cy="273.5" r="5.65"/><circle cx="1612.7" cy="282.4" r="5.65"/><circle cx="1618.7" cy="282.4" r="5.65"/><circle cx="1615.7" cy="291.3" r="5.65"/><circle cx="1616.2" cy="291.3" r="5.65"/><circle cx="1613.5" cy="295.8" r="5.65"/><circle cx="1617.5" cy="295.8" r="5.65"/><circle cx="1615.7" cy="300.3" r="5.65"/><circle cx="1620.7" cy="300.3" r="5.65"/><circle cx="1609.7" cy="304.7" r="5.65"/><circle cx="1615.0" cy="304.7" r="5.65"/><circle cx="1619.0" cy="304.7" r="5.65"/><circle cx="1607.3" cy="309.2" r="5.65"/><circle cx="1613.7" cy="309.2" r="5.65"/><circle cx="1618.7" cy="309.2" r="5.65"/><circle cx="1612.0" cy="313.7" r="5.65"/><circle cx="1616.0" cy="313.7" r="5.65"/><circle cx="1620.0" cy="313.7" r="5.65"/><circle cx="1625.0" cy="313.7" r="5.65"/><circle cx="1619.0" cy="318.1" r="5.65"/><circle cx="1616.4" cy="318.1" r="5.65"/><circle cx="1615.9" cy="318.1" r="5.65"/><circle cx="1617.7" cy="318.1" r="5.65"/><circle cx="1614.2" cy="318.1" r="5.65"/><circle cx="1614.8" cy="318.1" r="5.65"/><circle cx="1614.3" cy="318.1" r="5.65"/><circle cx="1616.9" cy="318.1" r="5.65"/><circle cx="1615.1" cy="318.1" r="5.65"/><circle cx="1614.5" cy="318.1" r="5.65"/><circle cx="1617.6" cy="318.1" r="5.65"/><circle cx="1619.3" cy="318.1" r="5.65"/><circle cx="1615.0" cy="318.1" r="5.65"/><circle cx="1617.7" cy="318.1" r="5.65"/><circle cx="1615.7" cy="318.1" r="5.65"/><circle cx="1618.6" cy="318.1" r="5.65"/><circle cx="1616.9" cy="318.1" r="5.65"/><circle cx="1614.8" cy="318.1" r="5.65"/><circle cx="1614.4" cy="318.1" r="5.65"/><circle cx="1613.2" cy="318.1" r="5.65"/><circle cx="1616.2" cy="318.1" r="5.65"/><circle cx="1615.5" cy="318.1" r="5.65"/><circle cx="1614.1" cy="318.1" r="5.65"/><circle cx="1615.4" cy="318.1" r="5.65"/><circle cx="1615.1" cy="318.1" r="5.65"/><circle cx="1618.1" cy="318.1" r="5.65"/><circle cx="1621.0" cy="318.1" r="5.65"/><circle cx="1623.0" cy="318.1" r="5.65"/><circle cx="1625.0" cy="318.1" r="5.65"/><circle cx="1627.0" cy="318.1" r="5.65"/><circle cx="1615.0" cy="322.6" r="5.65"/><circle cx="1618.0" cy="322.6" r="5.65"/><circle cx="1615.4" cy="327.0" r="5.65"/><circle cx="1619.0" cy="331.5" r="5.65"/><circle cx="1614.2" cy="344.9" r="5.65"/><circle cx="1617.9" cy="344.9" r="5.65"/><circle cx="1617.9" cy="353.8" r="5.65"/><circle cx="1616.7" cy="358.3" r="5.65"/><circle cx="1619.2" cy="362.7" r="5.65"/><circle cx="1613.4" cy="438.6" r="5.65"/><circle cx="1619.9" cy="452.0" r="5.65"/>
</g>
<path class="eb" d="M1394.0 310.9h26.8M1394.0 335.0h26.8M1407.4 310.9V335.0"/>
<path class="eb" d="M1603.5 269.1h26.8M1603.5 299.4h26.8M1616.9 269.1V299.4"/>
<path class="ax" d="M1280.9 95.0H1285.9V541.2H1280.9M1280.9 206.6H1285.9M1280.9 318.1H1285.9M1280.9 429.7H1285.9"/>
<path class="dash" d="M1285.95 318.3H1730.21"/>
<text class="t" transform="translate(1268.3 105.2) scale(1 1.04)" text-anchor="end">50</text>
<text class="t" transform="translate(1268.3 216.8) scale(1 1.04)" text-anchor="end">25</text>
<text class="t" transform="translate(1268.3 328.3) scale(1 1.04)" text-anchor="end">0</text>
<text class="t" transform="translate(1268.3 439.9) scale(1 1.04)" text-anchor="end">–25</text>
<text class="t" transform="translate(1268.3 551.4) scale(1 1.04)" text-anchor="end">–50</text>
<text class="t" x="1411.8" y="577.3" text-anchor="middle">Upholders</text>
<text class="t" x="1616.9" y="577.3" text-anchor="middle">Violators</text>
</g>
</svg>
</body>
</html>
